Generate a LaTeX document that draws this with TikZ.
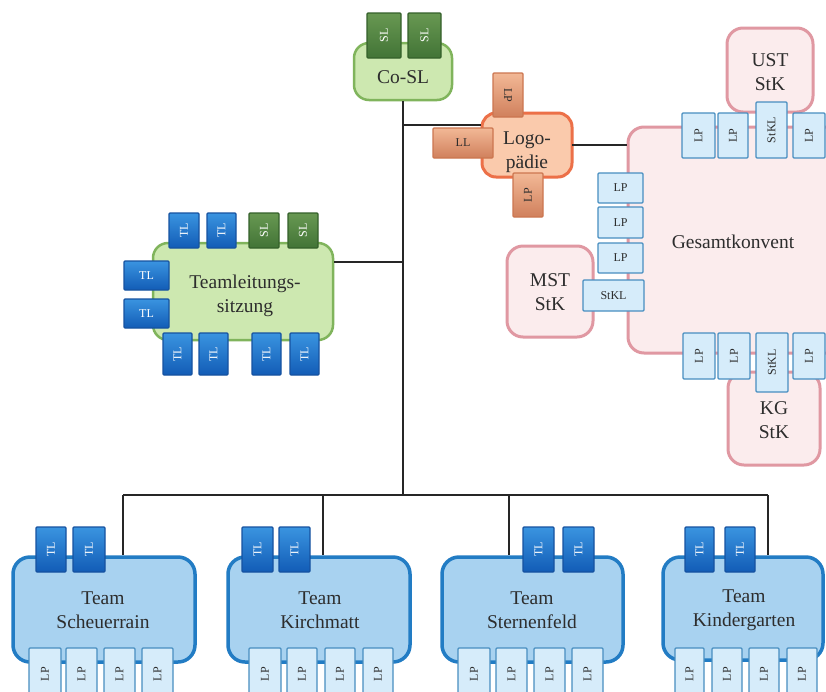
\documentclass[tikz,border=0pt]{standalone}
\usepackage{fontspec}
\setmainfont{Liberation Serif}
\usetikzlibrary{shadings}

\definecolor{txt}{RGB}{45,45,45}
\definecolor{grnfill}{RGB}{205,232,176}
\definecolor{grnline}{RGB}{128,180,92}
\definecolor{slA}{RGB}{104,152,82}
\definecolor{slB}{RGB}{66,116,54}
\definecolor{slline}{RGB}{52,96,42}
\definecolor{tlA}{RGB}{58,148,224}
\definecolor{tlB}{RGB}{18,92,182}
\definecolor{tlline}{RGB}{22,82,160}
\definecolor{lpfill}{RGB}{214,236,250}
\definecolor{lpline}{RGB}{72,142,192}
\definecolor{teamfill}{RGB}{168,210,240}
\definecolor{teamline}{RGB}{34,124,196}
\definecolor{pinkfill}{RGB}{251,236,237}
\definecolor{pinkline}{RGB}{224,152,162}
\definecolor{orgfill}{RGB}{250,202,172}
\definecolor{orgline}{RGB}{236,112,72}
\definecolor{orgA}{RGB}{242,184,150}
\definecolor{orgB}{RGB}{208,128,92}
\definecolor{orgedge}{RGB}{204,118,80}

\tikzset{
  bigtext/.style={font=\fontsize{19.5}{24}\selectfont, align=center, text=txt, inner sep=0pt},
  bigbox/.style={rectangle, rounded corners=15pt, inner sep=0pt},
  greenbox/.style={bigbox, fill=grnfill, draw=grnline, line width=2.5pt},
  teambox/.style={bigbox, rounded corners=17pt, fill=teamfill, draw=teamline, line width=3.5pt},
  pinkbox/.style={bigbox, rounded corners=16pt, fill=pinkfill, draw=pinkline, line width=3pt},
  orangebox/.style={bigbox, rounded corners=14pt, fill=orgfill, draw=orgline, line width=3pt},
  smallbox/.style={rectangle, rounded corners=1pt, inner sep=0pt, line width=1.2pt,
    font=\fontsize{12}{14}\selectfont},
  tlbox/.style={smallbox, draw=tlline, top color=tlA, bottom color=tlB, text=white},
  slbox/.style={smallbox, draw=slline, top color=slA, bottom color=slB, text=white},
  lpbox/.style={smallbox, draw=lpline, fill=lpfill, text=txt},
  orgbox/.style={smallbox, draw=orgedge, top color=orgA, bottom color=orgB, text=txt},
  link/.style={draw=black!85, line width=1.2pt}
}

% box given by its corners, upright text
\newcommand{\hcell}[7]{%
  \node[#1, minimum width={#5-#3}, minimum height={#6-#4}] (#2)
    at ({(#3+#5)/2},{(#4+#6)/2}) {#7};}
% box given by its corners, text reading upwards
\newcommand{\vcell}[7]{%
  \node[rotate=90, #1, minimum width={#6-#4}, minimum height={#5-#3}] (#2)
    at ({(#3+#5)/2},{(#4+#6)/2}) {#7};}
% box given by its corners, text reading downwards
\newcommand{\dcell}[7]{%
  \node[rotate=-90, #1, minimum width={#6-#4}, minimum height={#5-#3}] (#2)
    at ({(#3+#5)/2},{(#4+#6)/2}) {#7};}

\begin{document}
\begin{tikzpicture}[x=1pt,y=-1pt]
\useasboundingbox (0,0) rectangle (826,691);
\clip (0,0) rectangle (826,691);
\fill[white] (0,0) rectangle (826,691);

% ---------- connectors ----------
\coordinate (spineTop) at (403,100);
\coordinate (spineLogo) at (403,125);
\coordinate (spineTLS) at (403,262);
\coordinate (spineBus) at (403,495);
\coordinate (busA) at (123,495);
\coordinate (busB) at (323,495);
\coordinate (busC) at (509,495);
\coordinate (busD) at (768,495);
\coordinate (logoEast) at (572,145);

% ---------- Schulleitung ----------
\hcell{greenbox}{cosl}{354}{43}{452}{100}{}
\node[bigtext] (coslText) at (403,77) {Co-SL};
\vcell{slbox}{slA1}{367}{13}{401}{58}{SL}
\vcell{slbox}{slA2}{408}{13}{441}{58}{SL}

\draw[link] (cosl.south) -- (spineBus);
\draw[link] (busA) -- (busD);

% ---------- Teamleitungssitzung ----------
\hcell{greenbox}{tls}{153}{243}{333}{340}{}
\node[bigtext] (tlsText) at (245,296) {Teamleitungs-\\sitzung};
\draw[link] (tls.east |- spineTLS) -- (spineTLS);
\vcell{tlbox}{tlsT1}{169}{213}{199}{248}{TL}
\vcell{tlbox}{tlsT2}{207}{213}{236}{248}{TL}
\vcell{slbox}{tlsS1}{249}{213}{279}{248}{SL}
\vcell{slbox}{tlsS2}{288}{213}{318}{248}{SL}
\hcell{tlbox}{tlsL1}{124}{261}{169}{290}{TL}
\hcell{tlbox}{tlsL2}{124}{299}{169}{328}{TL}
\vcell{tlbox}{tlsB1}{163}{333}{192}{375}{TL}
\vcell{tlbox}{tlsB2}{199}{333}{228}{375}{TL}
\vcell{tlbox}{tlsB3}{252}{333}{281}{375}{TL}
\vcell{tlbox}{tlsB4}{290}{333}{319}{375}{TL}

% ---------- Logopaedie ----------
\hcell{orangebox}{logo}{482}{113}{572}{177}{}
\draw[link] (spineLogo) -- (spineLogo -| logo.west);
\node[bigtext] (logoText) at (527,152) {Logo-\\pädie};
\dcell{orgbox}{logoT}{493}{73}{523}{117}{LP}
\hcell{orgbox}{logoL}{433}{128}{493}{158}{LL}
\vcell{orgbox}{logoB}{513}{173}{543}{217}{LP}

% ---------- Gesamtkonvent ----------
\hcell{pinkbox}{gk}{628}{127}{860}{353}{}
\node[bigtext] (gkText) at (733,242) {Gesamtkonvent};
\draw[link] (logoEast) -- (logoEast -| gk.west);

\hcell{pinkbox}{ust}{727}{28}{813}{112}{}
\node[bigtext] (ustText) at (770,72) {UST\\StK};
\vcell{lpbox}{gkT1}{682}{113}{715}{158}{LP}
\vcell{lpbox}{gkT2}{718}{113}{748}{158}{LP}
\vcell{lpbox}{gkT3}{756}{102}{787}{158}{StKL}
\vcell{lpbox}{gkT4}{793}{113}{825}{158}{LP}

\hcell{pinkbox}{mst}{507}{246}{593}{337}{}
\node[bigtext] (mstText) at (550,292) {MST\\StK};
\hcell{lpbox}{gkL1}{598}{173}{643}{203}{LP}
\hcell{lpbox}{gkL2}{598}{207}{643}{238}{LP}
\hcell{lpbox}{gkL3}{598}{243}{643}{273}{LP}
\hcell{lpbox}{gkL4}{583}{280}{644}{311}{StKL}

\hcell{pinkbox}{kg}{728}{372}{820}{465}{}
\node[bigtext] (kgText) at (774,420) {KG\\StK};
\vcell{lpbox}{gkB1}{683}{333}{715}{379}{LP}
\vcell{lpbox}{gkB2}{718}{333}{750}{379}{LP}
\vcell{lpbox}{gkB3}{756}{333}{788}{392}{StKL}
\vcell{lpbox}{gkB4}{793}{333}{825}{379}{LP}

% ---------- Teams ----------
\hcell{teambox}{tA}{13}{557}{195}{662}{}
\draw[link] (busA) -- (busA |- tA.north);
\node[bigtext] (tAText) at (103,610) {Team\\Scheuerrain};
\vcell{tlbox}{tAT1}{36}{527}{66}{572}{TL}
\vcell{tlbox}{tAT2}{73}{527}{105}{572}{TL}
\vcell{lpbox}{tAP1}{29}{648}{61}{700}{LP}
\vcell{lpbox}{tAP2}{66}{648}{97}{700}{LP}
\vcell{lpbox}{tAP3}{104}{648}{135}{700}{LP}
\vcell{lpbox}{tAP4}{142}{648}{173}{700}{LP}

\hcell{teambox}{tB}{228}{557}{410}{662}{}
\draw[link] (busB) -- (busB |- tB.north);
\node[bigtext] (tBText) at (320,610) {Team\\Kirchmatt};
\vcell{tlbox}{tBT1}{242}{527}{273}{572}{TL}
\vcell{tlbox}{tBT2}{279}{527}{310}{572}{TL}
\vcell{lpbox}{tBP1}{249}{648}{281}{700}{LP}
\vcell{lpbox}{tBP2}{287}{648}{317}{700}{LP}
\vcell{lpbox}{tBP3}{325}{648}{355}{700}{LP}
\vcell{lpbox}{tBP4}{363}{648}{393}{700}{LP}

\hcell{teambox}{tC}{442}{557}{623}{662}{}
\draw[link] (busC) -- (busC |- tC.north);
\node[bigtext] (tCText) at (532,610) {Team\\Sternenfeld};
\vcell{tlbox}{tCT1}{523}{527}{554}{572}{TL}
\vcell{tlbox}{tCT2}{563}{527}{594}{572}{TL}
\vcell{lpbox}{tCP1}{458}{648}{490}{700}{LP}
\vcell{lpbox}{tCP2}{496}{648}{527}{700}{LP}
\vcell{lpbox}{tCP3}{534}{648}{565}{700}{LP}
\vcell{lpbox}{tCP4}{572}{648}{603}{700}{LP}

\hcell{teambox}{tD}{663}{557}{823}{660}{}
\draw[link] (busD) -- (busD |- tD.north);
\node[bigtext] (tDText) at (744,610) {Team\\Kindergarten};
\vcell{tlbox}{tDT1}{685}{527}{714}{572}{TL}
\vcell{tlbox}{tDT2}{725}{527}{755}{572}{TL}
\vcell{lpbox}{tDP1}{675}{648}{704}{700}{LP}
\vcell{lpbox}{tDP2}{712}{648}{742}{700}{LP}
\vcell{lpbox}{tDP3}{749}{648}{779}{700}{LP}
\vcell{lpbox}{tDP4}{787}{648}{817}{700}{LP}
\end{tikzpicture}
\end{document}
